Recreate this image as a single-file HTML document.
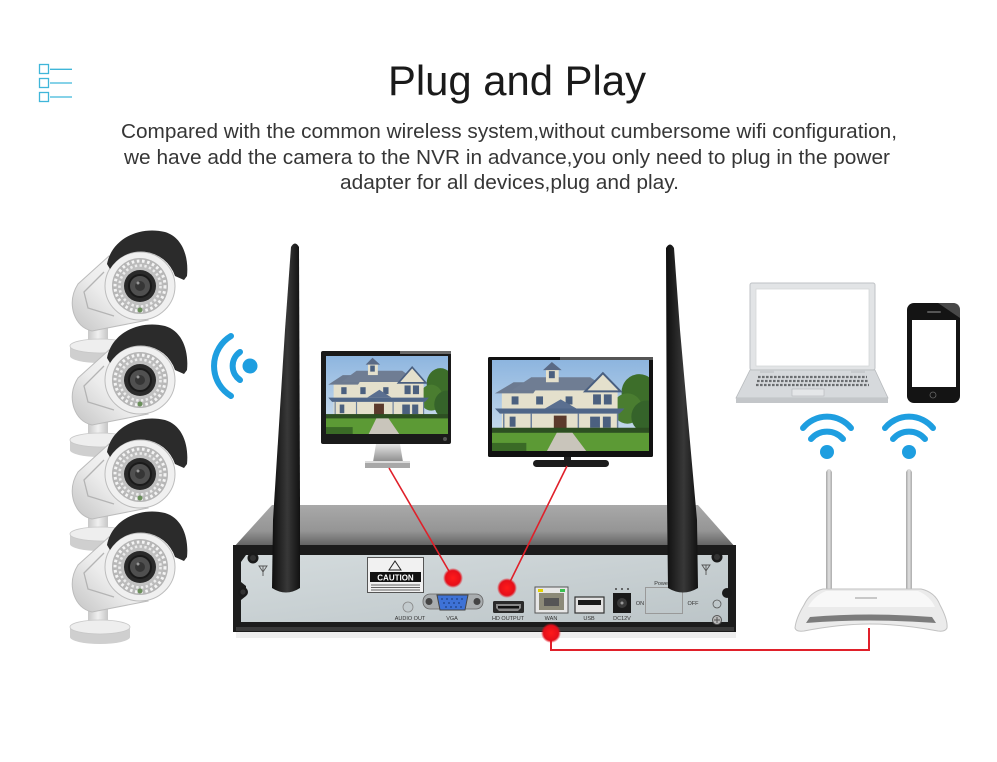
<!DOCTYPE html>
<html><head><meta charset="utf-8"><style>
html,body{margin:0;padding:0;background:#fff;}
svg{display:block;}
text{font-family:"Liberation Sans",Arial,sans-serif;}
</style></head><body>
<svg width="997" height="762" viewBox="0 0 997 762" xmlns="http://www.w3.org/2000/svg">
<defs>
 <linearGradient id="gBody" x1="1" y1="0" x2="0" y2="1"><stop offset="0" stop-color="#fbfbfb"/><stop offset=".55" stop-color="#ececec"/><stop offset="1" stop-color="#c4c4c4"/></linearGradient>
 <linearGradient id="gMount" x1="0" y1="0" x2="1" y2="0"><stop offset="0" stop-color="#c8c8c8"/><stop offset=".5" stop-color="#f0f0f0"/><stop offset="1" stop-color="#c6c6c6"/></linearGradient>
 <linearGradient id="gTop" x1="0" y1="0" x2="0" y2="1"><stop offset="0" stop-color="#a9a9a9"/><stop offset=".6" stop-color="#959595"/><stop offset="1" stop-color="#5a5a5a"/></linearGradient>
 <linearGradient id="gPanel" x1="0" y1="0" x2="1" y2="1"><stop offset="0" stop-color="#d4dbdd"/><stop offset="1" stop-color="#bcc5c8"/></linearGradient>
 <linearGradient id="gAnt" x1="0" y1="0" x2="1" y2="0"><stop offset="0" stop-color="#0e0e0e"/><stop offset=".55" stop-color="#383838"/><stop offset="1" stop-color="#111"/></linearGradient>
 <linearGradient id="gSilver" x1="0" y1="0" x2="0" y2="1"><stop offset="0" stop-color="#e6e6e6"/><stop offset="1" stop-color="#8c8c8c"/></linearGradient>
 <linearGradient id="gRAnt" x1="0" y1="0" x2="1" y2="0"><stop offset="0" stop-color="#a6a6a6"/><stop offset=".5" stop-color="#e2e2e2"/><stop offset="1" stop-color="#ababab"/></linearGradient>
 <linearGradient id="gSky" x1="0" y1="0" x2="0" y2="1"><stop offset="0" stop-color="#8db5df"/><stop offset="1" stop-color="#d3e2ef"/></linearGradient>
 <radialGradient id="gDot"><stop offset="0" stop-color="#ff1a1a"/><stop offset=".75" stop-color="#e50f1a"/><stop offset="1" stop-color="#e50f1a" stop-opacity="0"/></radialGradient>
 <radialGradient id="gLed"><stop offset="0" stop-color="#d6d6d6"/><stop offset="1" stop-color="#b4b4b4"/></radialGradient>

 <symbol id="house" viewBox="0 0 160 90" preserveAspectRatio="none">
  <rect width="160" height="90" fill="url(#gSky)"/>
  <circle cx="150" cy="32" r="18" fill="#3d6e2a"/>
  <circle cx="138" cy="48" r="15" fill="#4a7d30"/>
  <circle cx="158" cy="56" r="16" fill="#35632a"/>
  <rect x="10" y="30" width="118" height="42" fill="#e4e0cc"/>
  <polygon points="3,33 22,22 50,22 42,33" fill="#6c7a90"/>
  <polygon points="20,30 40,17 100,17 120,30" fill="#6f7d93"/>
  <polygon points="95,31 113,13 131,31" fill="#e4e0cc" stroke="#4a5f80" stroke-width="2"/>
  <rect x="55" y="8" width="13" height="14" fill="#e4e0cc"/>
  <polygon points="52,10 61,2 71,10" fill="#5a6a85"/>
  <rect x="58" y="11" width="6" height="7" fill="#4b607f"/>
  <rect x="20" y="36" width="7" height="8" fill="#4b607f"/>
  <rect x="45" y="36" width="7" height="8" fill="#4b607f"/>
  <rect x="75" y="36" width="7" height="8" fill="#4b607f"/>
  <rect x="103" y="34" width="8" height="10" fill="#4b607f"/>
  <rect x="114" y="34" width="8" height="10" fill="#4b607f"/>
  <polygon points="3,48 135,48 130,53 8,53" fill="#4f6688"/>
  <polygon points="54,48 70,39 86,48" fill="#5a6f90"/>
  <rect x="18" y="56" width="6" height="10" fill="#4b607f"/>
  <rect x="100" y="56" width="10" height="11" fill="#4b607f"/>
  <rect x="113" y="56" width="8" height="11" fill="#4b607f"/>
  <rect x="63" y="55" width="13" height="15" fill="#5b3a2c"/>
  <g stroke="#6a7f9c" stroke-width="1.5"><line x1="12" y1="53" x2="12" y2="70"/><line x1="40" y1="53" x2="40" y2="70"/><line x1="88" y1="53" x2="88" y2="70"/><line x1="128" y1="53" x2="128" y2="70"/></g>
  <rect x="0" y="67" width="160" height="6" fill="#2d4f22"/>
  <rect x="0" y="72" width="160" height="18" fill="#5c9a35"/>
  <polygon points="66,72 82,72 96,90 56,90" fill="#c9c5bb"/>
  <rect x="0" y="82" width="35" height="8" fill="#3a6a26"/>
 </symbol>

 <g id="cam">
  <rect x="-52" y="42" width="20" height="16" fill="url(#gMount)"/>
  <path d="M-70,60 L-70,70 A30,7 0 0 0 -10,70 L-10,60 Z" fill="#cfcfcf"/>
  <ellipse cx="-40" cy="60" rx="30" ry="7" fill="#eeeeee" stroke="#c8c8c8" stroke-width="0.8"/>
  <path d="M-31,-30 L-62,-2 Q-71,12 -66,28 Q-61,42 -48,45 L8,34 Z" fill="url(#gBody)" stroke="#bcbcbc" stroke-width="1"/>
  <path d="M-36,-14 L-56,6 L-52,22 L-26,30" fill="none" stroke="#b4b4b4" stroke-width="1.3"/>
  <ellipse cx="0" cy="0" rx="35" ry="34" fill="#f0f0f0" stroke="#bdbdbd"/>
  <circle r="28" fill="url(#gLed)"/>
  <circle r="25" fill="none" stroke="#f4f4f4" stroke-width="3" stroke-dasharray="2.6 2.6"/>
  <circle r="20.5" fill="none" stroke="#ececec" stroke-width="2.6" stroke-dasharray="2.4 2.4"/>
  <circle r="16" fill="#2a2a2a"/>
  <circle r="11" fill="#505050" stroke="#1a1a1a" stroke-width="2"/>
  <circle r="5" fill="#363636"/>
  <circle cx="-2" cy="-3" r="1.5" fill="#999"/>
  <circle cx="0" cy="24" r="2.5" fill="#6a8f5a"/>
  <path d="M-33,-22 C-28,-48 0,-60 25,-54 C42,-49 49,-30 47,-10 L44,-6 L35,-10 A36 36 0 0 0 -30,-17 Z" fill="#2b2b2b"/>
 </g>
</defs>

<rect width="997" height="762" fill="#fff"/>

<!-- list icon -->
<g fill="none" stroke="#3fb6d9" stroke-width="1.3">
 <rect x="39.5" y="64.5" width="9" height="9"/>
 <rect x="39.5" y="78.5" width="9" height="9"/>
 <rect x="39.5" y="92.5" width="9" height="9"/>
 <line x1="50" y1="69.3" x2="72" y2="69.3"/>
 <line x1="50" y1="83" x2="72" y2="83"/>
 <line x1="50" y1="97" x2="72" y2="97"/>
</g>

<!-- text -->
<text x="388" y="95" font-size="42" fill="#1a1a1a" textLength="258" lengthAdjust="spacingAndGlyphs">Plug and Play</text>
<g font-size="20" fill="#363636">
 <text x="121" y="138" textLength="776" lengthAdjust="spacingAndGlyphs">Compared with the common wireless system,without cumbersome wifi configuration,</text>
 <text x="124" y="164" textLength="766" lengthAdjust="spacingAndGlyphs">we have add the camera to the NVR in advance,you only need to plug in the power</text>
 <text x="340" y="189" textLength="339" lengthAdjust="spacingAndGlyphs">adapter for all devices,plug and play.</text>
</g>

<!-- cameras -->
<use href="#cam" x="140" y="286"/>
<use href="#cam" x="140" y="380"/>
<use href="#cam" x="140" y="474"/>
<use href="#cam" x="140" y="567"/>

<!-- wifi left -->
<g fill="none" stroke="#1e9ee0" stroke-width="6" stroke-linecap="round">
 <path d="M240,352 A17 17 0 0 0 240,380"/>
 <path d="M231,336 A35 35 0 0 0 231,396"/>
</g>
<circle cx="250" cy="366" r="7.5" fill="#1e9ee0"/>

<!-- monitor 1 -->
<path d="M376,444 L400,444 L403,462 L373,462 Z" fill="url(#gSilver)"/>
<rect x="365" y="461" width="45" height="7" fill="#a8a8a8"/>
<rect x="365" y="461" width="45" height="2" fill="#dcdcdc"/>
<rect x="321" y="351" width="130" height="93" rx="2" fill="#1a1a1a"/>
<rect x="400" y="351" width="51" height="3" fill="#6a6a6a"/>
<use href="#house" x="326" y="356" width="122" height="78"/>
<circle cx="445" cy="439" r="2" fill="#555"/>

<!-- TV -->
<rect x="564" y="456" width="7" height="6" fill="#222"/>
<rect x="533" y="460" width="76" height="7" rx="3.5" fill="#1c1c1c"/>
<rect x="488" y="357" width="165" height="100" rx="1.5" fill="#111"/>
<rect x="560" y="357" width="93" height="3" fill="#555"/>
<use href="#house" x="492" y="360" width="157" height="91"/>

<!-- NVR -->
<rect x="236" y="628" width="500" height="10" fill="#eee"/>
<polygon points="233,548 272,505 698,505 736,548" fill="url(#gTop)"/>
<rect x="233" y="545" width="503" height="87" fill="#1c1c1c"/>
<path d="M246,555 L728,555 L728,622 L241,622 L241,600 L246,596 L246,586 L241,582 L241,562 Z" fill="url(#gPanel)"/>
<rect x="236" y="627" width="498" height="4" fill="#3a3a3a"/>

<!-- screws & antenna marks -->
<circle cx="253" cy="558" r="5.5" fill="#1a1a1a"/><circle cx="253" cy="558" r="3" fill="#333"/>
<circle cx="243" cy="592" r="5" fill="#1a1a1a"/><circle cx="243" cy="592" r="2.6" fill="#333"/>
<circle cx="717" cy="557" r="5.5" fill="#1a1a1a"/><circle cx="717" cy="557" r="3" fill="#333"/>
<circle cx="727" cy="593" r="5" fill="#1a1a1a"/>
<circle cx="717" cy="620" r="4.5" fill="#bbb" stroke="#555"/><path d="M714,620 h6 M717,617 v6" stroke="#555" stroke-width="1"/>
<circle cx="717" cy="604" r="4" fill="none" stroke="#555" stroke-width="0.8"/>
<g stroke="#555" stroke-width="0.9" fill="none"><path d="M259,566 l4,6 l4,-6 z M263,566 v10"/><path d="M702,565 l4,6 l4,-6 z M706,565 v10"/></g>

<!-- caution label -->
<rect x="367.5" y="557.5" width="56" height="35" fill="#f1f1f1" stroke="#555" stroke-width="1"/>
<polygon points="395,561 389,570 401,570" fill="none" stroke="#222" stroke-width="1"/>
<rect x="370" y="572" width="51" height="10" fill="#111"/>
<text x="395.5" y="580.5" font-size="8" font-weight="bold" fill="#fff" text-anchor="middle">CAUTION</text>
<g stroke="#333" stroke-width="0.8"><line x1="371" y1="585" x2="420" y2="585"/><line x1="371" y1="587.5" x2="420" y2="587.5"/><line x1="371" y1="590" x2="420" y2="590"/></g>

<!-- audio -->
<circle cx="408" cy="607" r="5" fill="#c3cbce" stroke="#888" stroke-width="0.8"/>
<!-- VGA -->
<rect x="423" y="594" width="60" height="15" rx="7" fill="#a9adaf" stroke="#666" stroke-width="0.8"/>
<circle cx="429" cy="601.5" r="3.5" fill="#444"/><circle cx="477" cy="601.5" r="3.5" fill="#444"/>
<path d="M437,595 L468,595 L465,610 L440,610 Z" fill="#3e72d6" stroke="#444" stroke-width="1"/>
<g fill="#1e3f80"><circle cx="442" cy="599" r=".9"/><circle cx="447" cy="599" r=".9"/><circle cx="452" cy="599" r=".9"/><circle cx="457" cy="599" r=".9"/><circle cx="462" cy="599" r=".9"/><circle cx="444" cy="603" r=".9"/><circle cx="449" cy="603" r=".9"/><circle cx="454" cy="603" r=".9"/><circle cx="459" cy="603" r=".9"/><circle cx="446" cy="607" r=".9"/><circle cx="451" cy="607" r=".9"/><circle cx="456" cy="607" r=".9"/><circle cx="461" cy="607" r=".9"/></g>
<!-- HDMI -->
<rect x="493" y="601" width="31" height="12" rx="1.5" fill="#2a2a2a"/>
<path d="M496,604 L521,604 L521,608 L518,611 L499,611 L496,608 Z" fill="#888"/>
<rect x="498" y="606" width="21" height="2.5" fill="#111"/>
<!-- WAN -->
<rect x="535" y="587" width="33" height="26" fill="#e7e7e7" stroke="#555" stroke-width="1"/>
<rect x="539" y="593" width="25" height="17" fill="#8c8a78"/>
<rect x="544" y="598" width="15" height="8" fill="#555"/>
<rect x="538" y="589" width="5" height="3" fill="#e0d000"/><rect x="560" y="589" width="5" height="3" fill="#3cc050"/>
<!-- USB -->
<rect x="575" y="597" width="29" height="16" fill="#e3e3e3" stroke="#333" stroke-width="1.2"/>
<rect x="578" y="600" width="23" height="5" fill="#1a1a1a"/>
<!-- DC -->
<rect x="613" y="593" width="18" height="20" fill="#1a1a1a"/>
<circle cx="622" cy="603" r="5" fill="#3a3a3a"/><circle cx="622" cy="603" r="1.5" fill="#999"/>
<g fill="#444"><circle cx="616" cy="589" r="1"/><circle cx="622" cy="589" r="1"/><circle cx="628" cy="589" r="1"/></g>
<!-- power -->
<rect x="645.5" y="587.5" width="37" height="26" fill="none" stroke="#999" stroke-width="1"/>

<g font-size="5.5" fill="#333" text-anchor="middle">
 <text x="410" y="620">AUDIO OUT</text>
 <text x="452" y="620">VGA</text>
 <text x="508" y="620">HD OUTPUT</text>
 <text x="551" y="620">WAN</text>
 <text x="589" y="620">USB</text>
 <text x="622" y="620">DC12V</text>
 <text x="640" y="605">ON</text>
 <text x="662" y="585">Power</text>
 <text x="693" y="605">OFF</text>
</g>

<!-- NVR antennas -->
<path d="M291,247 Q295,240 299,247 L300,500 L300,588 Q286,597 272,588 L273,520 L285,330 Z" fill="url(#gAnt)"/>
<path d="M666,248 Q670,241 674,248 L680,330 L697,520 L698,588 Q683,597 668,588 L667,500 Z" fill="url(#gAnt)"/>

<!-- red connectors -->
<g stroke="#e0202a" fill="none">
 <line x1="389" y1="468" x2="453" y2="578" stroke-width="1.6"/>
 <line x1="567" y1="466" x2="507" y2="588" stroke-width="1.6"/>
 <polyline points="551,633 551,650 869,650 869,628" stroke-width="2"/>
</g>
<circle cx="453" cy="578" r="10" fill="url(#gDot)"/>
<circle cx="507" cy="588" r="10" fill="url(#gDot)"/>
<circle cx="551" cy="633" r="10" fill="url(#gDot)"/>

<!-- laptop -->
<rect x="750" y="283" width="125" height="87" rx="2" fill="#e2e4e6" stroke="#bfc2c5" stroke-width="1"/>
<rect x="756" y="289" width="113" height="77" fill="#fff" stroke="#d5d7d9" stroke-width="0.8"/>
<polygon points="750,370 875,370 888,398 736,398" fill="#d6d9dc" stroke="#b7babd" stroke-width="0.8"/>
<rect x="736" y="398" width="152" height="5" fill="#c3c6c9"/>
<rect x="760" y="370" width="14" height="3" fill="#c8cbce"/><rect x="851" y="370" width="14" height="3" fill="#c8cbce"/>
<g stroke="#6a6d70" stroke-width="2.2" stroke-dasharray="2.6 1.4"><line x1="758" y1="377" x2="867" y2="377"/><line x1="757" y1="381" x2="868" y2="381"/><line x1="756" y1="385" x2="869" y2="385"/></g>
<rect x="792" y="389" width="32" height="7" fill="#e4e6e8" stroke="#b2b5b8" stroke-width="0.6"/>

<!-- phone -->
<rect x="907" y="303" width="53" height="100" rx="7" fill="#141414"/>
<rect x="912" y="320" width="44" height="67" fill="#fff"/>
<rect x="927" y="311" width="14" height="2" rx="1" fill="#555"/>
<circle cx="933" cy="395" r="3" fill="none" stroke="#666" stroke-width="0.8"/>
<path d="M938,303 L953,303 Q960,303 960,310 L960,318 Z" fill="#6a6a6a" opacity=".6"/>

<!-- wifi router icons -->
<g fill="none" stroke="#1e9ee0" stroke-width="6" stroke-linecap="round">
 <path d="M811,439 A21 21 0 0 1 843,439"/>
 <path d="M803,428 A31 31 0 0 1 851,428"/>
 <path d="M893,439 A21 21 0 0 1 925,439"/>
 <path d="M885,428 A31 31 0 0 1 933,428"/>
</g>
<circle cx="827" cy="452" r="7" fill="#1e9ee0"/>
<circle cx="909" cy="452" r="7" fill="#1e9ee0"/>

<!-- router -->
<path d="M826,472 Q829,466 832,472 L832,598 L826,598 Z" fill="url(#gRAnt)"/>
<path d="M906,472 Q909,466 912,472 L912,598 L906,598 Z" fill="url(#gRAnt)"/>
<path d="M823,589 L921,589 Q935,592 940,605 Q948,620 947,628 Q945,632 938,631 Q900,624 870,624 Q840,624 804,631 Q796,632 795,628 Q796,618 804,605 Q810,592 823,589 Z" fill="#ebebeb" stroke="#c2c2c2" stroke-width="1"/>
<path d="M826,591 L918,591 Q930,596 935,607 L808,607 Q814,596 826,591 Z" fill="#f8f8f8"/>
<path d="M810,617 Q870,612 932,617 L936,623 Q870,618 806,623 Z" fill="#7c7c7c"/>
<rect x="855" y="597" width="22" height="2" fill="#c8c8c8"/>
</svg>
</body></html>
